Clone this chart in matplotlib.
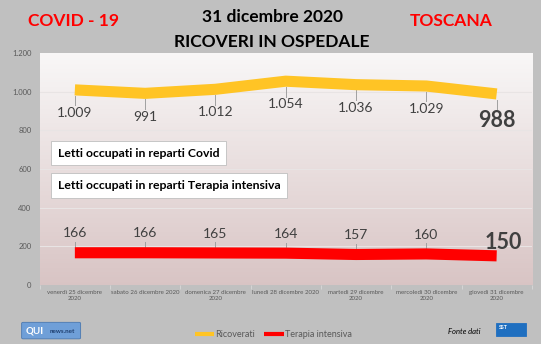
import numpy as np
import matplotlib.pyplot as plt
from matplotlib.patches import FancyBboxPatch

plt.rcParams['font.family'] = ['Lato', 'DejaVu Sans']

# dati ricoveri Toscana, ultima settimana 2020
giorni = ['venerdì 25 dicembre\n2020', 'sabato 26 dicembre 2020', 'domenica 27 dicembre\n2020',
          'lunedì 28 dicembre 2020', 'martedì 29 dicembre\n2020', 'mercoledì 30 dicembre\n2020',
          'giovedì 31 dicembre\n2020']
ricoverati = [1009, 991, 1012, 1054, 1036, 1029, 988]
terapia_intensiva = [166, 166, 165, 164, 157, 160, 150]
yticks = [0, 200, 400, 600, 800, 1000, 1200]

def fmt(v):
    return f'{v:,}'.replace(',', '.')

fig = plt.figure(figsize=(5.41, 3.44), dpi=100)
fig.patch.set_facecolor('#c0c0c0')
ax = fig.add_axes([0.0734, 0.172, 0.9096, 0.674])
x = np.arange(len(giorni))

# sfondo sfumato dell'area del grafico
grad = np.linspace(0, 1, 256)[:, None]
top = np.array([0.975, 0.97, 0.97])
bot = np.array([0.85, 0.77, 0.77])
img = top + (bot - top) * grad[..., None]
img = np.repeat(img, 2, axis=1)
ax.imshow(img, extent=[-0.5, 6.5, 0, 1200], aspect='auto', zorder=0)

for t in yticks[1:-1]:
    ax.axhline(t, color='#e8e4e4', lw=0.8, zorder=1)

ax.plot(x, ricoverati, color='#ffc425', lw=8, solid_capstyle='butt', zorder=3, label='Ricoverati')
ax.plot(x, terapia_intensiva, color='#ff0000', lw=8, solid_capstyle='butt', zorder=3,
        label='Terapia intensiva')

# etichette dei valori
for i, v in enumerate(ricoverati):
    ax.plot([i, i], [v - 30, v - 80], color='#a0a0a0', lw=0.7, zorder=2)
    if i == len(ricoverati) - 1:
        ax.text(i, v - 140, fmt(v), ha='center', va='center', fontsize=15.5,
                fontweight='bold', color='#404040', zorder=4)
    else:
        ax.text(i, v - 120, fmt(v), ha='center', va='center', fontsize=10,
                color='#404040', zorder=4)

for i, v in enumerate(terapia_intensiva):
    if i == len(terapia_intensiva) - 1:
        ax.text(i + 0.1, v + 70, fmt(v), ha='center', va='center', fontsize=15.5,
                fontweight='bold', color='#404040', zorder=4)
    else:
        ax.plot([i, i], [v + 25, v + 55], color='#a0a0a0', lw=0.7, zorder=2)
        ax.text(i, v + 100, fmt(v), ha='center', va='center', fontsize=10,
                color='#404040', zorder=4)

# riquadri descrittivi
box = dict(boxstyle='square,pad=0.55', fc='white', ec='#bfbfbf', lw=0.6)
ax.text(-0.24, 682, 'Letti occupati in reparti Covid', fontsize=8.8, fontweight='bold',
        color='black', va='center', ha='left', bbox=box, zorder=5)
ax.text(-0.24, 515, 'Letti occupati in reparti Terapia intensiva', fontsize=8.8,
        fontweight='bold', color='black', va='center', ha='left', bbox=box, zorder=5)

ax.set_xlim(-0.5, 6.5)
ax.set_ylim(0, 1200)
ax.set_yticks(yticks)
ax.set_yticklabels([fmt(t) for t in yticks])
ax.set_xticks(x)
ax.set_xticklabels(giorni)
ax.set_xticks(np.arange(-0.5, 7, 1), minor=True)
ax.tick_params(axis='x', which='major', length=0, labelsize=4.4, labelcolor='#595959', pad=4)
ax.tick_params(axis='x', which='minor', length=3, color='#d9d9d9', direction='out')
ax.tick_params(axis='y', length=0, labelsize=5.5, labelcolor='#595959', pad=6)
for s in ax.spines.values():
    s.set_visible(False)

# titoli
fig.text(0.503, 0.952, '31 dicembre 2020', ha='center', va='center', fontsize=12.5,
         fontweight='bold', color='black')
fig.text(0.503, 0.878, 'RICOVERI IN OSPEDALE', ha='center', va='center', fontsize=12.5,
         fontweight='bold', color='black')
fig.text(0.135, 0.94, 'COVID - 19', ha='center', va='center', fontsize=12.5,
         fontweight='bold', color='#ff0000')
fig.text(0.834, 0.94, 'TOSCANA', ha='center', va='center', fontsize=12.5,
         fontweight='bold', color='#ff0000')

leg = fig.legend(loc='center', bbox_to_anchor=(0.505, 0.028), ncol=2, frameon=False,
                 fontsize=6.5, handlelength=2.2, handletextpad=0.1, columnspacing=1.0)
for txt in leg.get_texts():
    txt.set_color('#595959')
for h in leg.get_lines():
    h.set_linewidth(3)

fig.text(0.858, 0.035, 'Fonte dati', ha='center', va='center', fontsize=5.5,
         style='italic', color='black')

# loghi
qui = FancyBboxPatch((0.043, 0.018), 0.103, 0.042, boxstyle='round,pad=0.003',
                     transform=fig.transFigure, fc='#6f9fd8', ec='#4a78b0', lw=0.6)
fig.patches.append(qui)
fig.text(0.048, 0.039, 'QUI', ha='left', va='center', fontsize=7, fontweight='bold',
         color='white')
fig.text(0.092, 0.036, 'news.net', ha='left', va='center', fontsize=4.5, fontweight='bold',
         color='#1f3f6f')
sst = FancyBboxPatch((0.916, 0.022), 0.056, 0.04, boxstyle='square,pad=0',
                     transform=fig.transFigure, fc='#1f6fc0', ec='#1f6fc0', lw=0.6)
fig.patches.append(sst)
fig.text(0.93, 0.048, 'SST', ha='center', va='center', fontsize=3.8, fontweight='bold',
         color='white')

fig.savefig('out.png', dpi=100, facecolor=fig.get_facecolor())
